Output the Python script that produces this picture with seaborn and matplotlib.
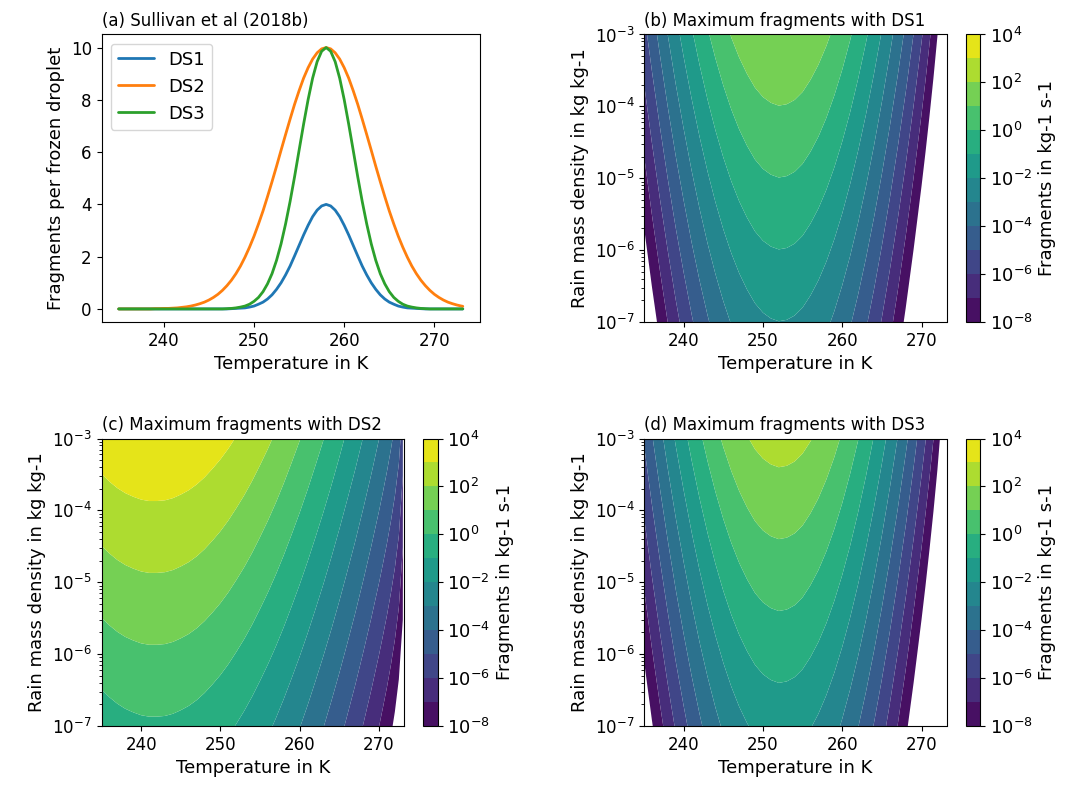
import numpy as np
import pandas as pd
import matplotlib
matplotlib.use("Agg")
import matplotlib.pyplot as plt
import seaborn as sns
from matplotlib.colors import Normalize

# ---------------- data ----------------
# (a) fragments per frozen droplet, sampled every 0.5 K from 235 K to 273 K, plus 273.15 K
temperature_line = list(np.arange(235.0, 273.01, 0.5)) + [273.15]
ds1_fragments = [0.0] * 25 + [
    0.01, 0.02, 0.03, 0.04, 0.07, 0.11, 0.18, 0.26, 0.38, 0.54, 0.75, 1.0, 1.3, 1.64, 2.03,
    2.43, 2.83, 3.2, 3.53, 3.78, 3.94, 4.0, 3.94, 3.78, 3.53, 3.2, 2.83, 2.43, 2.03, 1.64,
    1.3, 1.0, 0.75, 0.54, 0.38, 0.26, 0.18, 0.11, 0.07, 0.04, 0.03, 0.02, 0.01] + [0.0] * 10
ds2_fragments = [0.0] * 8 + [
    0.01, 0.01, 0.02, 0.02, 0.03, 0.04, 0.06, 0.08, 0.11, 0.15, 0.2, 0.26, 0.34, 0.44, 0.56,
    0.71, 0.89, 1.1, 1.35, 1.64, 1.98, 2.36, 2.78, 3.25, 3.75, 4.3, 4.87, 5.46, 6.07, 6.67,
    7.26, 7.83, 8.35, 8.83, 9.23, 9.56, 9.8, 9.95, 10.0, 9.95, 9.8, 9.56, 9.23, 8.83, 8.35,
    7.83, 7.26, 6.67, 6.07, 5.46, 4.87, 4.3, 3.75, 3.25, 2.78, 2.36, 1.98, 1.64, 1.35, 1.1,
    0.89, 0.71, 0.56, 0.44, 0.34, 0.26, 0.2, 0.15, 0.11, 0.1]
ds3_fragments = [0.0] * 24 + [
    0.01, 0.02, 0.04, 0.07, 0.11, 0.18, 0.29, 0.44, 0.66, 0.96, 1.35, 1.86, 2.49, 3.25, 4.11,
    5.06, 6.07, 7.07, 8.01, 8.83, 9.46, 9.86, 10.0, 9.86, 9.46, 8.83, 8.01, 7.07, 6.07, 5.06,
    4.11, 3.25, 2.49, 1.86, 1.35, 0.96, 0.66, 0.44, 0.29, 0.18, 0.11, 0.07, 0.04, 0.02, 0.01] + [0.0] * 9

# (b)-(d) log10 of maximum fragments (kg-1 s-1) at rain mass density 1e-3 kg/kg;
# the fields scale linearly with rain mass density (one decade per decade).
temperature_grid = [235, 236, 237, 238, 239, 240, 241, 242, 243, 244, 245, 246, 247, 248, 249,
                    250, 251, 252, 253, 254, 255, 256, 257, 258, 259, 260, 261, 262, 263, 264,
                    265, 266, 267, 268, 269, 270, 270.5, 271, 271.5, 272, 272.5, 273, 273.15]
log_frag_ds1 = [-5.32, -4.49, -3.72, -2.99, -2.31, -1.69, -1.11, -0.58, -0.1, 0.33, 0.71, 1.04,
                1.32, 1.55, 1.74, 1.87, 1.95, 1.99, 1.97, 1.91, 1.8, 1.63, 1.42, 1.16, 0.85, 0.49,
                0.08, -0.38, -0.89, -1.45, -2.06, -2.72, -3.43, -4.19, -5.01, -5.89, -6.36, -6.86,
                -7.39, -7.97, -8.65, -9.72, -20]
log_frag_ds2 = [3.49, 3.6, 3.69, 3.76, 3.81, 3.85, 3.87, 3.87, 3.86, 3.83, 3.78, 3.72, 3.64, 3.54,
                3.42, 3.29, 3.14, 2.97, 2.79, 2.59, 2.37, 2.14, 1.89, 1.62, 1.33, 1.03, 0.71, 0.37,
                0.02, -0.35, -0.74, -1.15, -1.57, -2.02, -2.49, -2.99, -3.26, -3.54, -3.85, -4.2,
                -4.65, -5.48, -20]
log_frag_ds3 = [-4.91, -4.08, -3.31, -2.58, -1.9, -1.28, -0.7, -0.17, 0.31, 0.74, 1.12, 1.45, 1.73,
                1.96, 2.15, 2.28, 2.36, 2.4, 2.38, 2.32, 2.21, 2.04, 1.83, 1.57, 1.26, 0.9, 0.49,
                0.03, -0.48, -1.04, -1.65, -2.31, -3.02, -3.78, -4.6, -5.48, -5.95, -6.45, -6.98,
                -7.56, -8.24, -9.31, -20]
rain_range_exp = [-7, -3]
level_exps = list(range(-8, 5))
cbar_tick_exps = [-8, -6, -4, -2, 0, 2, 4]
series_names = ["DS1", "DS2", "DS3"]
titles = ["(a) Sullivan et al (2018b)",
          "(b) Maximum fragments with DS1",
          "(c) Maximum fragments with DS2",
          "(d) Maximum fragments with DS3"]

# ---------------- style ----------------
sns.set_style("ticks", {"axes.edgecolor": "black", "xtick.color": "black", "ytick.color": "black",
                        "text.color": "black", "axes.labelcolor": "black"})
plt.rcParams["font.family"] = ["DejaVu Sans"]
plt.rcParams["font.size"] = 12
plt.rcParams["axes.labelsize"] = 13
plt.rcParams["legend.fontsize"] = 13
TITLE_SIZE = 12

W, H = 1075, 796
fig = plt.figure(figsize=(W / 100, H / 100), dpi=100)


def box(l, t, w, hh):
    return [l / W, 1 - (t + hh) / H, w / W, hh / H]


# ---------------- panel (a) ----------------
ax_a = fig.add_axes(box(101.5, 34.5, 378.5, 287.5))
df = pd.DataFrame({
    "T": temperature_line * 3,
    "frag": ds1_fragments + ds2_fragments + ds3_fragments,
    "set": sum([[n] * len(temperature_line) for n in series_names], []),
})
sns.lineplot(data=df, x="T", y="frag", hue="set", palette=sns.color_palette("tab10", 3),
             ax=ax_a, lw=2)
ax_a.legend(loc="upper left", borderaxespad=0.5)
ax_a.set_xlabel("Temperature in K")
ax_a.set_ylabel("Fragments per frozen droplet")
ax_a.set_title(titles[0], loc="left", fontsize=TITLE_SIZE)
ax_a.set_xticks([240, 250, 260, 270])

# ---------------- panels (b)-(d) ----------------
panels = [
    (box(644, 34.5, 302.5, 287.5), box(965.7, 34.5, 14.4, 287.5), log_frag_ds1, titles[1]),
    (box(101.5, 438.5, 302.5, 287.5), box(423.2, 438.5, 14.4, 287.5), log_frag_ds2, titles[2]),
    (box(644, 438.5, 302.5, 287.5), box(965.7, 438.5, 14.4, 287.5), log_frag_ds3, titles[3]),
]
qr = np.logspace(rain_range_exp[0], rain_range_exp[1], 161)
for pos, cpos, hv, title in panels:
    ax = fig.add_axes(pos)
    cax = fig.add_axes(cpos)
    Z = np.asarray(hv)[None, :] + (np.log10(qr) - rain_range_exp[1])[:, None]
    cs = ax.contourf(temperature_grid, qr, Z, levels=level_exps, cmap="viridis",
                     norm=Normalize(level_exps[0], level_exps[-1]), antialiased=True)
    ax.set_yscale("log")
    ax.set_ylim(10.0 ** rain_range_exp[0], 10.0 ** rain_range_exp[1])
    ax.set_xlim(temperature_grid[0], temperature_grid[-1])
    ax.set_xticks([240, 250, 260, 270])
    ax.set_xlabel("Temperature in K")
    ax.set_ylabel("Rain mass density in kg kg-1")
    ax.set_title(title, loc="left", fontsize=TITLE_SIZE)
    cb = fig.colorbar(cs, cax=cax)
    cb.set_ticks(cbar_tick_exps)
    cb.set_ticklabels([r"$\mathdefault{10^{%d}}$" % k for k in cbar_tick_exps])
    cb.ax.tick_params(labelsize=13)
    cb.set_label("Fragments in kg-1 s-1")

fig.savefig("out.png", dpi=100)
